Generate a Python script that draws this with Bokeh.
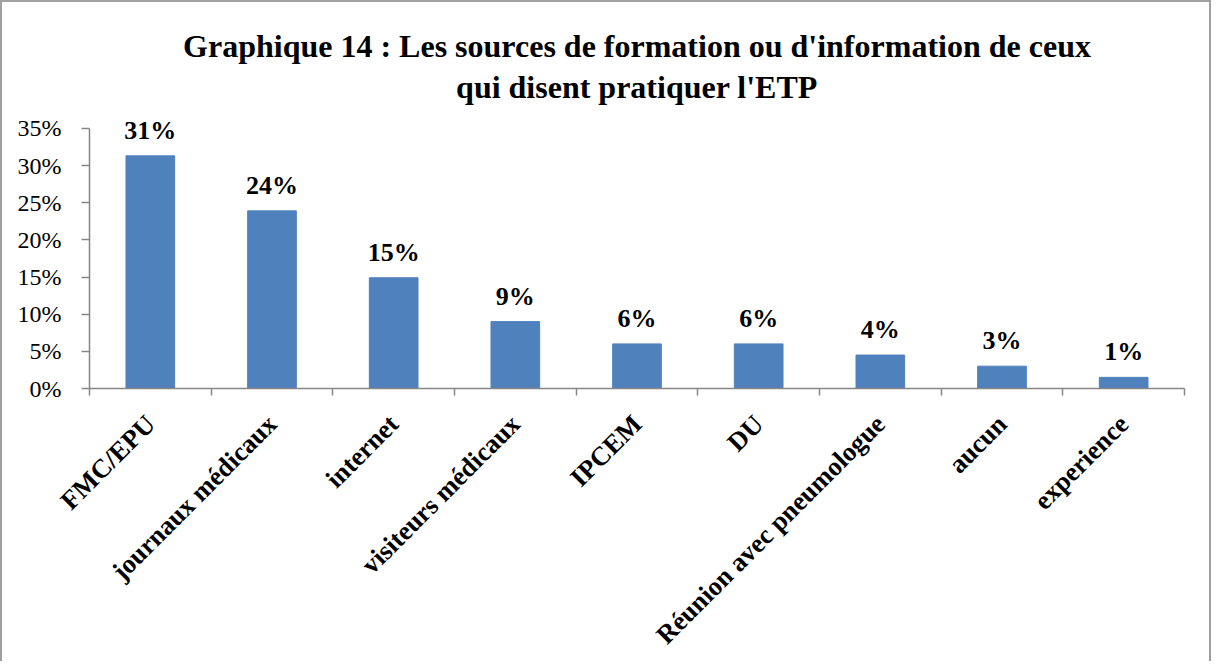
from bokeh.plotting import figure
from bokeh.models import ColumnDataSource, FixedTicker, NumeralTickFormatter, Range1d, LabelSet, Title
from bokeh.embed import file_html
from bokeh.resources import INLINE
import math

categories = ["FMC/EPU", "journaux médicaux", "internet", "visiteurs médicaux", "IPCEM",
              "DU", "Réunion avec pneumologue", "aucun", "experience"]
values = [0.313, 0.239, 0.149, 0.090, 0.060, 0.060, 0.045, 0.030, 0.015]
value_labels = ["31%", "24%", "15%", "9%", "6%", "6%", "4%", "3%", "1%"]
y_ticks = [0, 0.05, 0.10, 0.15, 0.20, 0.25, 0.30, 0.35]

title_line1 = "Graphique 14 : Les sources de formation ou d'information de ceux"
title_line2 = "qui disent pratiquer l'ETP"

FONT = "Liberation Serif"
AXIS_COL = "#868686"

xs = list(range(len(categories)))
src = ColumnDataSource(dict(x=xs, top=values, lab=value_labels))

p = figure(width=1211, height=661, output_backend="svg", toolbar_location=None,
           x_range=Range1d(-0.5, len(categories) - 0.5), y_range=Range1d(0, 0.37),
           min_border_left=87, min_border_right=29, min_border_top=111, min_border_bottom=271,
           styles={"border-left": "2px solid #a0a0a0", "border-top": "2px solid #a0a0a0",
                   "border-right": "2px solid #a0a0a0"})

def style_title(t):
    t.align = "center"
    t.text_font = FONT
    t.text_font_size = "32px"
    t.text_font_style = "bold"
    t.text_color = "black"

p.title.text = title_line1
style_title(p.title)
p.title.standoff = -10
t2 = Title(text=title_line2)
style_title(t2)
t2.standoff = 17
p.add_layout(t2, "above")

p.outline_line_color = None
p.xgrid.grid_line_color = None
p.ygrid.grid_line_color = None

p.vbar(x="x", top="top", width=0.4, source=src, fill_color="#4F81BD", line_color="#4F81BD")

labels = LabelSet(x="x", y="top", text="lab", source=src, text_align="center",
                  text_baseline="alphabetic", y_offset=17, text_font=FONT,
                  text_font_size="26px", text_font_style="bold", text_color="black")
p.add_layout(labels)

# y axis
p.yaxis.ticker = FixedTicker(ticks=y_ticks, minor_ticks=[])
p.yaxis.bounds = (0, 0.35)
p.yaxis.formatter = NumeralTickFormatter(format="0%")
p.yaxis.axis_line_color = AXIS_COL
p.yaxis.axis_line_width = 1.5
p.yaxis.major_tick_line_color = AXIS_COL
p.yaxis.major_tick_line_width = 1.5
p.yaxis.major_tick_out = 8
p.yaxis.major_tick_in = 0
p.yaxis.minor_tick_line_color = None
p.yaxis.major_label_text_font = FONT
p.yaxis.major_label_text_font_size = "24px"
p.yaxis.major_label_text_color = "black"
p.yaxis.major_label_standoff = 20

# x axis
p.xaxis.ticker = FixedTicker(ticks=xs, minor_ticks=[i - 0.5 for i in range(len(categories) + 1)])
p.xaxis.major_label_overrides = {i: c for i, c in zip(xs, categories)}
p.xaxis.axis_line_color = AXIS_COL
p.xaxis.axis_line_width = 1.5
p.xaxis.major_tick_line_color = None
p.xaxis.major_tick_out = 0
p.xaxis.major_tick_in = 0
p.xaxis.minor_tick_line_color = AXIS_COL
p.xaxis.minor_tick_line_width = 1.5
p.xaxis.minor_tick_out = 7
p.xaxis.minor_tick_in = 0
p.xaxis.major_label_orientation = math.pi / 4
p.xaxis.major_label_text_font = FONT
p.xaxis.major_label_text_font_size = "26.5px"
p.xaxis.major_label_text_font_style = "bold"
p.xaxis.major_label_text_color = "black"
p.xaxis.major_label_standoff = 24

open("out.html", "w").write(file_html(p, INLINE))
